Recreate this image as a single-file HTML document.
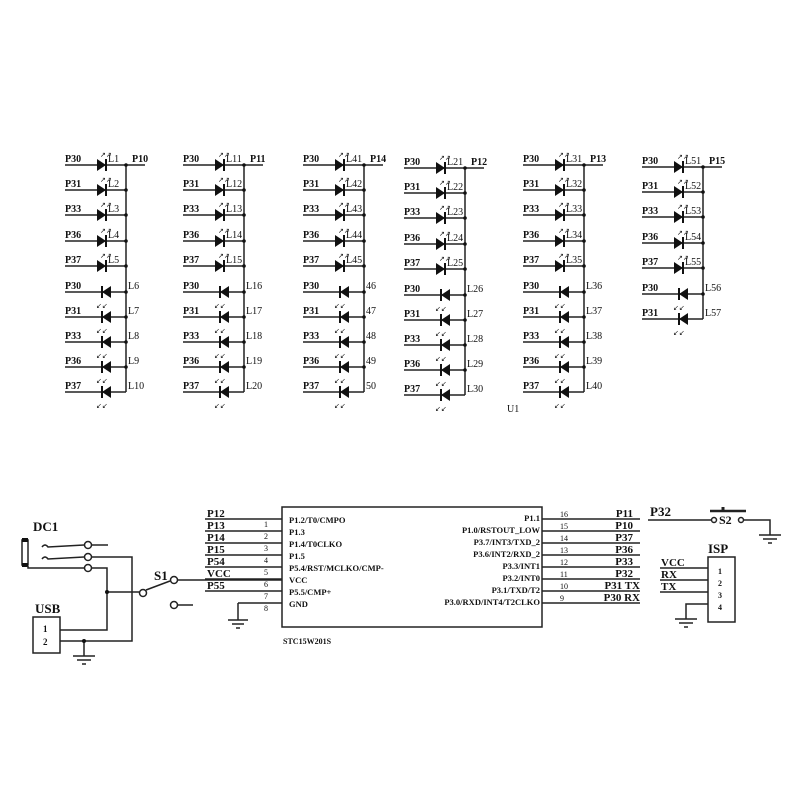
<!DOCTYPE html>
<html><head><meta charset="utf-8"><style>
html,body{margin:0;padding:0;background:#fff}
svg{display:block}
text{font-family:"Liberation Serif",serif;fill:#111}
.s{stroke:#222;stroke-width:1.5;fill:none}
.b{font-weight:bold}
</style></head><body>
<svg width="800" height="800" viewBox="0 0 800 800" xmlns="http://www.w3.org/2000/svg">
<defs>
 <g id="dr">
  <polygon points="-9,-6 -9,6 0,0" fill="#111"/>
  <line x1="0" y1="-6" x2="0" y2="6" stroke="#111" stroke-width="2"/>
  <text x="-6" y="-8" font-size="7">↗↗</text>
 </g>
 <g id="dl">
  <polygon points="9,-6 9,6 0,0" fill="#111"/>
  <line x1="0" y1="-6" x2="0" y2="6" stroke="#111" stroke-width="2"/>
  <text x="-6" y="16" font-size="7">↙↙</text>
 </g>
 <g id="col">
  <line class="s" x1="0" y1="165" x2="61" y2="165"/>
  <line class="s" x1="0" y1="190" x2="61" y2="190"/>
  <line class="s" x1="0" y1="215" x2="61" y2="215"/>
  <line class="s" x1="0" y1="241" x2="61" y2="241"/>
  <line class="s" x1="0" y1="266" x2="61" y2="266"/>
  <line class="s" x1="0" y1="292" x2="61" y2="292"/>
  <line class="s" x1="0" y1="317" x2="61" y2="317"/>
  <line class="s" x1="0" y1="342" x2="61" y2="342"/>
  <line class="s" x1="0" y1="367" x2="61" y2="367"/>
  <line class="s" x1="0" y1="392" x2="61" y2="392"/>
  <line class="s" x1="61" y1="165" x2="61" y2="392"/>
  <line class="s" x1="61" y1="165" x2="80" y2="165"/>
  <g fill="#111"><circle cx="61" cy="165" r="1.8"/><circle cx="61" cy="190" r="1.8"/><circle cx="61" cy="215" r="1.8"/><circle cx="61" cy="241" r="1.8"/><circle cx="61" cy="266" r="1.8"/><circle cx="61" cy="292" r="1.8"/><circle cx="61" cy="317" r="1.8"/><circle cx="61" cy="342" r="1.8"/><circle cx="61" cy="367" r="1.8"/></g>
  <use href="#dr" x="41" y="165"/><use href="#dr" x="41" y="190"/><use href="#dr" x="41" y="215"/><use href="#dr" x="41" y="241"/><use href="#dr" x="41" y="266"/>
  <use href="#dl" x="37" y="292"/><use href="#dl" x="37" y="317"/><use href="#dl" x="37" y="342"/><use href="#dl" x="37" y="367"/><use href="#dl" x="37" y="392"/>
  <g font-size="10" class="b"><text x="0" y="162">P30</text><text x="0" y="187">P31</text><text x="0" y="212">P33</text><text x="0" y="238">P36</text><text x="0" y="263">P37</text><text x="0" y="289">P30</text><text x="0" y="314">P31</text><text x="0" y="339">P33</text><text x="0" y="364">P36</text><text x="0" y="389">P37</text></g>
 </g>
 <g id="col6">
  <line class="s" x1="0" y1="165" x2="61" y2="165"/>
  <line class="s" x1="0" y1="190" x2="61" y2="190"/>
  <line class="s" x1="0" y1="215" x2="61" y2="215"/>
  <line class="s" x1="0" y1="241" x2="61" y2="241"/>
  <line class="s" x1="0" y1="266" x2="61" y2="266"/>
  <line class="s" x1="0" y1="292" x2="61" y2="292"/>
  <line class="s" x1="0" y1="317" x2="61" y2="317"/>
  <line class="s" x1="61" y1="165" x2="61" y2="317"/>
  <line class="s" x1="61" y1="165" x2="80" y2="165"/>
  <g fill="#111"><circle cx="61" cy="165" r="1.8"/><circle cx="61" cy="190" r="1.8"/><circle cx="61" cy="215" r="1.8"/><circle cx="61" cy="241" r="1.8"/><circle cx="61" cy="266" r="1.8"/><circle cx="61" cy="292" r="1.8"/></g>
  <use href="#dr" x="41" y="165"/><use href="#dr" x="41" y="190"/><use href="#dr" x="41" y="215"/><use href="#dr" x="41" y="241"/><use href="#dr" x="41" y="266"/>
  <use href="#dl" x="37" y="292"/><use href="#dl" x="37" y="317"/>
  <g font-size="10" class="b"><text x="0" y="162">P30</text><text x="0" y="187">P31</text><text x="0" y="212">P33</text><text x="0" y="238">P36</text><text x="0" y="263">P37</text><text x="0" y="289">P30</text><text x="0" y="314">P31</text></g>
 </g>
</defs>

<g transform="translate(65,0)"><use href="#col"/>
 <g font-size="10"><text x="43" y="162">L1</text><text x="43" y="187">L2</text><text x="43" y="212">L3</text><text x="43" y="238">L4</text><text x="43" y="263">L5</text><text x="63" y="289">L6</text><text x="63" y="314">L7</text><text x="63" y="339">L8</text><text x="63" y="364">L9</text><text x="63" y="389">L10</text><text x="67" y="162" class="b">P10</text></g></g>
<g transform="translate(183,0)"><use href="#col"/>
 <g font-size="10"><text x="43" y="162">L11</text><text x="43" y="187">L12</text><text x="43" y="212">L13</text><text x="43" y="238">L14</text><text x="43" y="263">L15</text><text x="63" y="289">L16</text><text x="63" y="314">L17</text><text x="63" y="339">L18</text><text x="63" y="364">L19</text><text x="63" y="389">L20</text><text x="67" y="162" class="b">P11</text></g></g>
<g transform="translate(303,0)"><use href="#col"/>
 <g font-size="10"><text x="43" y="162">L41</text><text x="43" y="187">L42</text><text x="43" y="212">L43</text><text x="43" y="238">L44</text><text x="43" y="263">L45</text><text x="63" y="289">46</text><text x="63" y="314">47</text><text x="63" y="339">48</text><text x="63" y="364">49</text><text x="63" y="389">50</text><text x="67" y="162" class="b">P14</text></g></g>
<g transform="translate(404,3)"><use href="#col"/>
 <g font-size="10"><text x="43" y="162">L21</text><text x="43" y="187">L22</text><text x="43" y="212">L23</text><text x="43" y="238">L24</text><text x="43" y="263">L25</text><text x="63" y="289">L26</text><text x="63" y="314">L27</text><text x="63" y="339">L28</text><text x="63" y="364">L29</text><text x="63" y="389">L30</text><text x="67" y="162" class="b">P12</text></g></g>
<g transform="translate(523,0)"><use href="#col"/>
 <g font-size="10"><text x="43" y="162">L31</text><text x="43" y="187">L32</text><text x="43" y="212">L33</text><text x="43" y="238">L34</text><text x="43" y="263">L35</text><text x="63" y="289">L36</text><text x="63" y="314">L37</text><text x="63" y="339">L38</text><text x="63" y="364">L39</text><text x="63" y="389">L40</text><text x="67" y="162" class="b">P13</text></g></g>
<g transform="translate(642,2)"><use href="#col6"/>
 <g font-size="10"><text x="43" y="162">L51</text><text x="43" y="187">L52</text><text x="43" y="212">L53</text><text x="43" y="238">L54</text><text x="43" y="263">L55</text><text x="63" y="289">L56</text><text x="63" y="314">L57</text><text x="67" y="162" class="b">P15</text></g></g>
<text x="507" y="412" font-size="10">U1</text>

<rect class="s" x="282" y="507" width="260" height="120"/>
<text x="283" y="644" font-size="8" class="b">STC15W201S</text>
<g class="s">
 <line x1="205" y1="519" x2="282" y2="519"/><line x1="205" y1="531" x2="282" y2="531"/><line x1="205" y1="543" x2="282" y2="543"/><line x1="205" y1="555" x2="282" y2="555"/><line x1="205" y1="567" x2="282" y2="567"/><line x1="205" y1="579" x2="282" y2="579"/><line x1="205" y1="591" x2="282" y2="591"/><line x1="238" y1="603" x2="282" y2="603"/>
 <line x1="542" y1="519" x2="640" y2="519"/><line x1="542" y1="531" x2="640" y2="531"/><line x1="542" y1="543" x2="640" y2="543"/><line x1="542" y1="555" x2="640" y2="555"/><line x1="542" y1="567" x2="640" y2="567"/><line x1="542" y1="579" x2="640" y2="579"/><line x1="542" y1="591" x2="640" y2="591"/><line x1="542" y1="603" x2="640" y2="603"/>
 <polyline points="238,603 238,620"/>
 <line x1="228" y1="620" x2="248" y2="620"/><line x1="232" y1="624" x2="244" y2="624"/><line x1="236" y1="628" x2="240" y2="628"/>
</g>
<g font-size="11" font-weight="bold"><text x="207" y="517">P12</text><text x="207" y="529">P13</text><text x="207" y="541">P14</text><text x="207" y="553">P15</text><text x="207" y="565">P54</text><text x="207" y="577">VCC</text><text x="207" y="589">P55</text></g>
<g font-size="8"><text x="264" y="527">1</text><text x="264" y="539">2</text><text x="264" y="551">3</text><text x="264" y="563">4</text><text x="264" y="575">5</text><text x="264" y="587">6</text><text x="264" y="599">7</text><text x="264" y="611">8</text>
<text x="560" y="517">16</text><text x="560" y="529">15</text><text x="560" y="541">14</text><text x="560" y="553">13</text><text x="560" y="565">12</text><text x="560" y="577">11</text><text x="560" y="589">10</text><text x="560" y="601">9</text></g>
<g font-size="11" text-anchor="end" class="b"><text x="633" y="517">P11</text><text x="633" y="529">P10</text><text x="633" y="541">P37</text><text x="633" y="553">P36</text><text x="633" y="565">P33</text><text x="633" y="577">P32</text><text x="640" y="589">P31 TX</text><text x="640" y="601">P30 RX</text></g>
<g font-size="8.5" class="b"><text x="289" y="523">P1.2/T0/CMPO</text><text x="289" y="535">P1.3</text><text x="289" y="547">P1.4/T0CLKO</text><text x="289" y="559">P1.5</text><text x="289" y="571">P5.4/RST/MCLKO/CMP-</text><text x="289" y="583">VCC</text><text x="289" y="595">P5.5/CMP+</text><text x="289" y="607">GND</text></g>
<g font-size="8.5" text-anchor="end" class="b"><text x="540" y="521">P1.1</text><text x="540" y="533">P1.0/RSTOUT_LOW</text><text x="540" y="545">P3.7/INT3/TXD_2</text><text x="540" y="557">P3.6/INT2/RXD_2</text><text x="540" y="569">P3.3/INT1</text><text x="540" y="581">P3.2/INT0</text><text x="540" y="593">P3.1/TXD/T2</text><text x="540" y="605">P3.0/RXD/INT4/T2CLKO</text></g>

<text x="33" y="531" font-size="13" font-weight="bold">DC1</text>
<rect x="22" y="540" width="6" height="25" fill="#fff" stroke="#222" stroke-width="1.5"/>
<rect x="22" y="538" width="6" height="4" fill="#111"/><rect x="22" y="563" width="6" height="4" fill="#111"/>
<g class="s">
 <path d="M42,547 q3,-4 6,0 L84,545"/><line x1="92" y1="545" x2="108" y2="545"/>
 <path d="M42,559 q3,-4 6,0 L84,557"/><polyline points="92,557 132,557 132,641 60,641"/>
 <polyline points="28,566 28,568 84,568"/><polyline points="92,568 107,568 107,630 60,630"/>
 <line x1="107" y1="592" x2="139" y2="592"/>
 <line x1="146" y1="590" x2="170" y2="581"/>
 <line x1="177" y1="580" x2="282" y2="580"/>
 <line x1="177" y1="605" x2="193" y2="605"/>
 <circle cx="88" cy="545" r="3.5"/><circle cx="88" cy="557" r="3.5"/><circle cx="88" cy="568" r="3.5"/>
 <circle cx="143" cy="593" r="3.5"/><circle cx="174" cy="580" r="3.5"/><circle cx="174" cy="605" r="3.5"/>
 <rect x="33" y="617" width="27" height="36"/>
 <line x1="84" y1="641" x2="84" y2="656"/>
 <line x1="73" y1="656" x2="95" y2="656"/><line x1="77" y1="660" x2="91" y2="660"/><line x1="82" y1="664" x2="86" y2="664"/>
</g>
<circle cx="107" cy="592" r="2" fill="#111"/><circle cx="84" cy="641" r="2" fill="#111"/>
<text x="35" y="613" font-size="13" font-weight="bold">USB</text>
<text x="154" y="580" font-size="13" font-weight="bold">S1</text>
<text x="43" y="632" font-size="9" class="b">1</text><text x="43" y="645" font-size="9" class="b">2</text>

<text x="650" y="516" font-size="13" font-weight="bold">P32</text>
<g class="s">
 <line x1="648" y1="520" x2="711" y2="520"/>
 <circle cx="714" cy="520" r="2.5"/><circle cx="741" cy="520" r="2.5"/>
 <line x1="710" y1="511" x2="746" y2="511" stroke-width="2.5"/><line x1="723" y1="511" x2="723" y2="507" stroke-width="3"/>
 <polyline points="744,520 770,520 770,535"/>
 <line x1="759" y1="535" x2="781" y2="535"/><line x1="763" y1="539" x2="777" y2="539"/><line x1="768" y1="543" x2="772" y2="543"/>
 <rect x="708" y="557" width="27" height="65"/>
 <line x1="660" y1="568" x2="708" y2="568"/><line x1="660" y1="580" x2="708" y2="580"/><line x1="660" y1="592" x2="708" y2="592"/>
 <polyline points="708,604 686,604 686,619"/>
 <line x1="675" y1="619" x2="697" y2="619"/><line x1="679" y1="623" x2="693" y2="623"/><line x1="684" y1="627" x2="688" y2="627"/>
</g>
<text x="719" y="524" font-size="12" font-weight="bold">S2</text>
<text x="708" y="553" font-size="13" font-weight="bold">ISP</text>
<g font-size="11" class="b"><text x="661" y="566">VCC</text><text x="661" y="578">RX</text><text x="661" y="590">TX</text></g>
<g font-size="8" class="b"><text x="718" y="574">1</text><text x="718" y="586">2</text><text x="718" y="598">3</text><text x="718" y="610">4</text></g>
</svg>
</body></html>
